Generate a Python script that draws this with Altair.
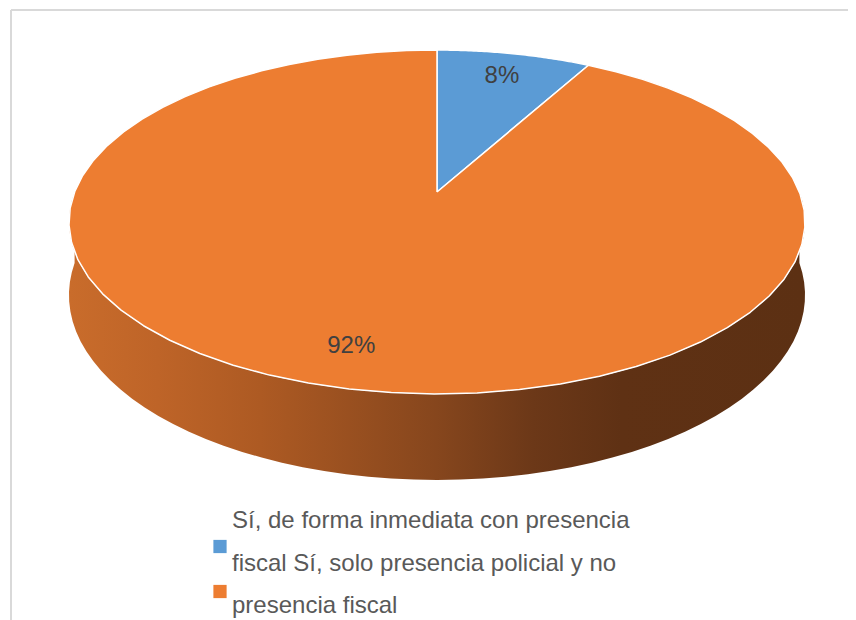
import altair as alt
import pandas as pd

# ---------------- data ----------------
categories = [
    "Sí, de forma inmediata con presencia fiscal",
    "Sí, solo presencia policial y no presencia fiscal",
]
values = [8, 92]
label_texts = ["8%", "92%"]
colors = ["#5b9bd5", "#ed7d31"]
legend_lines = [
    "Sí, de forma inmediata con presencia",
    "fiscal Sí, solo presencia policial y no",
    "presencia fiscal",
]

# ---------------- layout / projection constants (style, not data) ----------------
W, H = 840, 612
X0, Y0 = 8, 8
CX, CY0 = 437, 192          # projected centre of the pie top
F, G, D, V = 2078, 956, 5.734, 407   # simple perspective projection
LABEL_R = 0.82
FONT = "Liberation Sans"

xs = alt.Scale(domain=[X0, X0 + W], nice=False, zero=False)
ys = alt.Scale(domain=[Y0, Y0 + H], reverse=True, nice=False, zero=False)
color_scale = alt.Scale(domain=categories, range=colors)


def px_expr(X, Z):
    return f"{CX} + {F}*({X})/({D}+({Z}))"


def py_top(Z):
    return f"{CY0} - {G}*({Z})/({D}+({Z}))"


def py_bot(Z):
    return f"{CY0} + ({V} - {G}*({Z}))/({D}+({Z}))"


slices = pd.DataFrame({
    "category": categories,
    "value": values,
    "label": label_texts,
    "k": list(range(len(values))),
})

base = (
    alt.Chart(slices)
    .transform_window(cum="sum(value)", sort=[alt.SortField("k")], frame=[None, 0])
    .transform_joinaggregate(total="sum(value)")
    .transform_calculate(a0="2*PI*(datum.cum-datum.value)/datum.total")
    .transform_calculate(a1="2*PI*datum.cum/datum.total")
)

# ---- top face wedges ----
wedges = (
    base.transform_calculate(pts="sequence(0, 62)")
    .transform_flatten(["pts"])
    .transform_calculate(t="datum.a0 + (datum.a1-datum.a0)*(datum.pts-1)/59")
    .transform_calculate(isv="datum.pts==0 || datum.pts==61")
    .transform_calculate(X="datum.isv ? 0 : sin(datum.t)")
    .transform_calculate(Z="datum.isv ? 0 : cos(datum.t)")
    .transform_calculate(px=px_expr("datum.X", "datum.Z"))
    .transform_calculate(py=py_top("datum.Z"))
    .mark_line(filled=True, stroke="white", strokeWidth=1.5, strokeJoin="round", opacity=1)
    .encode(
        x=alt.X("px:Q", scale=xs, axis=None),
        y=alt.Y("py:Q", scale=ys, axis=None),
        color=alt.Color("category:N", scale=color_scale, legend=None),
        order=alt.Order("pts:Q"),
        detail="category:N",
    )
)

# ---- side wall (front half) ----
side = (
    alt.Chart(alt.sequence(0, 122, as_="pts"))
    .transform_calculate(isTop="datum.pts <= 60")
    .transform_calculate(t="datum.isTop ? PI/2 + PI*datum.pts/60 : 3*PI/2 - PI*(datum.pts-61)/60")
    .transform_calculate(X="sin(datum.t)")
    .transform_calculate(Z="cos(datum.t)")
    .transform_calculate(px=px_expr("datum.X", "datum.Z"))
    .transform_calculate(py=f"datum.isTop ? {py_top('datum.Z')} : {py_bot('datum.Z')}")
    .mark_line(
        filled=True,
        strokeWidth=0,
        fill=alt.Gradient(
            gradient="linear",
            x1=0, x2=1, y1=0, y2=0,
            stops=[
                alt.GradientStop(color="#c96c2b", offset=0),
                alt.GradientStop(color="#be6428", offset=0.12),
                alt.GradientStop(color="#ad5a23", offset=0.26),
                alt.GradientStop(color="#86461d", offset=0.5),
                alt.GradientStop(color="#6c3818", offset=0.63),
                alt.GradientStop(color="#5f3114", offset=0.75),
                alt.GradientStop(color="#5c3013", offset=1),
            ],
        ),
    )
    .encode(
        x=alt.X("px:Q", scale=xs, axis=None),
        y=alt.Y("py:Q", scale=ys, axis=None),
        order=alt.Order("pts:Q"),
    )
)

# ---- data labels ----
labels = (
    base.transform_calculate(mid="(datum.a0+datum.a1)/2")
    .transform_calculate(X=f"{LABEL_R}*sin(datum.mid)")
    .transform_calculate(Z=f"{LABEL_R}*cos(datum.mid)")
    .transform_calculate(px=px_expr("datum.X", "datum.Z"))
    .transform_calculate(py=py_top("datum.Z"))
    .mark_text(fontSize=24, font=FONT, color="#404040")
    .encode(
        x=alt.X("px:Q", scale=xs, axis=None),
        y=alt.Y("py:Q", scale=ys, axis=None),
        text="label:N",
    )
)

# ---- legend ----
leg_sq = (
    alt.Chart(slices)
    .transform_calculate(lx="220", ly="546.5 + 45*datum.k")
    .mark_square(size=175, filled=True, opacity=1)
    .encode(
        x=alt.X("lx:Q", scale=xs, axis=None),
        y=alt.Y("ly:Q", scale=ys, axis=None),
        color=alt.Color("category:N", scale=color_scale, legend=None),
    )
)

leg_txt = (
    alt.Chart(pd.DataFrame({"line": legend_lines, "i": list(range(len(legend_lines)))}))
    .transform_calculate(lx="232", ly="528 + 42.5*datum.i")
    .mark_text(align="left", baseline="alphabetic", fontSize=24, font=FONT, color="#595959")
    .encode(
        x=alt.X("lx:Q", scale=xs, axis=None),
        y=alt.Y("ly:Q", scale=ys, axis=None),
        text="line:N",
    )
)

# ---- outer frame ----
frame_top = alt.Chart(slices).mark_rule(color="#d9d9d9", strokeWidth=2).encode(
    x=alt.value(3), x2=alt.value(W), y=alt.value(2)
)
frame_left = alt.Chart(slices).mark_rule(color="#d9d9d9", strokeWidth=2).encode(
    x=alt.value(3), y=alt.value(2), y2=alt.value(H)
)

chart = (
    alt.layer(frame_top, frame_left, side, wedges, labels, leg_sq, leg_txt)
    .properties(width=W, height=H, padding=0, autosize="none")
    .configure_view(strokeWidth=0)
)

chart.save("out.html", embed_options={"renderer": "svg", "actions": False})
